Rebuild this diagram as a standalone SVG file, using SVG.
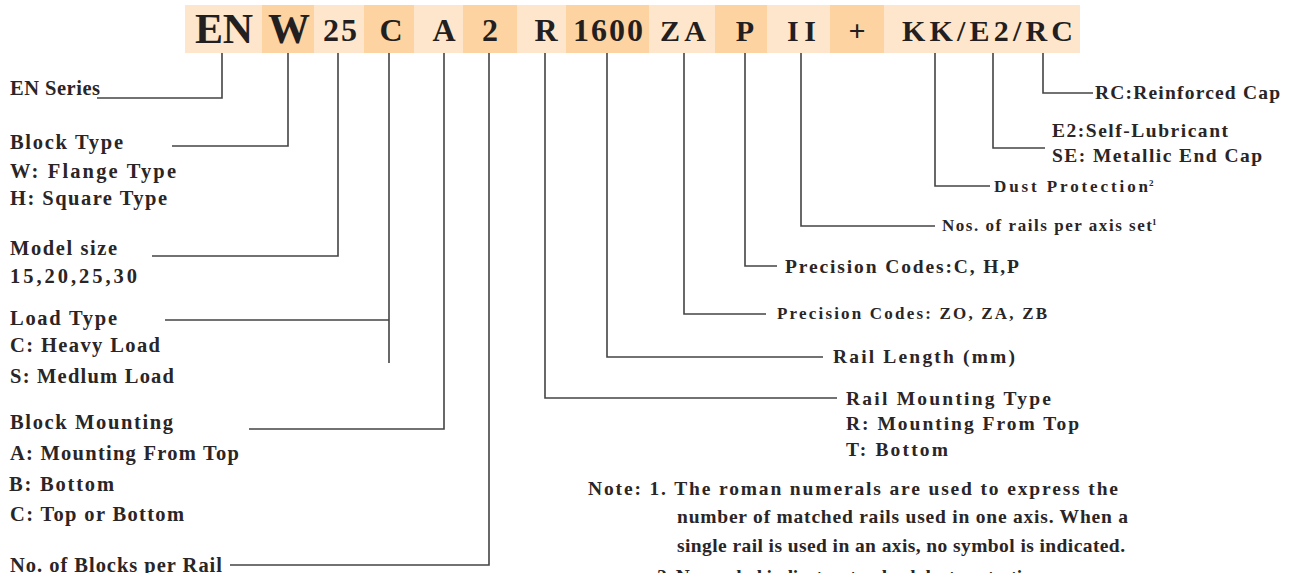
<svg xmlns="http://www.w3.org/2000/svg" width="1297" height="573" viewBox="0 0 1297 573">
<style>
.lt{fill:#fee6cc}
.dk{fill:#fcd3a1}
.h{font-family:"Liberation Serif",serif;font-weight:bold;fill:#231f20}
.t{font-family:"Liberation Serif",serif;font-weight:bold;fill:#2a2526;font-size:20.5px}
.s{font-size:19.5px}
.m{font-size:17px}
.sup{font-size:9px}
.c{fill:none;stroke:#444;stroke-width:1.6}
</style>
<rect width="1297" height="573" fill="#fff"/>
<g id="code-bar">
<rect class="lt" x="185" y="5" width="77" height="48"/>
<rect class="dk" x="262" y="5" width="52" height="48"/>
<rect class="lt" x="314" y="5" width="50" height="48"/>
<rect class="dk" x="364" y="5" width="50" height="48"/>
<rect class="lt" x="414" y="5" width="49" height="48"/>
<rect class="dk" x="463" y="5" width="54" height="48"/>
<rect class="lt" x="517" y="5" width="49" height="48"/>
<rect class="dk" x="566" y="5" width="83" height="48"/>
<rect class="lt" x="649" y="5" width="66" height="48"/>
<rect class="dk" x="715" y="5" width="52" height="48"/>
<rect class="lt" x="767" y="5" width="63" height="48"/>
<rect class="dk" x="830" y="5" width="54" height="48"/>
<rect class="lt" x="884" y="5" width="196" height="48"/>
<text class="h" x="195" y="43" font-size="42" textLength="58" lengthAdjust="spacing">EN</text>
<text class="h" x="289" y="43" font-size="42" text-anchor="middle">W</text>
<text class="h" x="323" y="41" font-size="32" textLength="34" lengthAdjust="spacing">25</text>
<text class="h" x="391" y="41" font-size="32" text-anchor="middle">C</text>
<text class="h" x="444" y="41" font-size="32" text-anchor="middle">A</text>
<text class="h" x="490" y="41" font-size="32" text-anchor="middle">2</text>
<text class="h" x="546" y="41" font-size="32" text-anchor="middle">R</text>
<text class="h" x="573" y="41" font-size="32" textLength="70" lengthAdjust="spacing">1600</text>
<text class="h" x="660" y="41" font-size="30" textLength="46" lengthAdjust="spacing">ZA</text>
<text class="h" x="745" y="41" font-size="30" text-anchor="middle">P</text>
<text class="h" x="787" y="41" font-size="30" textLength="29" lengthAdjust="spacing">II</text>
<text class="h" x="857" y="41" font-size="30" text-anchor="middle">+</text>
<text class="h" x="902" y="41" font-size="30" textLength="171" lengthAdjust="spacing">KK/E2/RC</text>
</g>
<g id="connectors">
<path class="c" d="M222 53V98H97"/>
<path class="c" d="M288 53V146H172"/>
<path class="c" d="M338 53V256H152"/>
<path class="c" d="M389 53V363M165 320H389"/>
<path class="c" d="M444 53V429H249"/>
<path class="c" d="M489 53V565H230"/>
<path class="c" d="M545 53V398H837"/>
<path class="c" d="M607 53V357H823"/>
<path class="c" d="M684 53V314H766"/>
<path class="c" d="M745 53V266H777"/>
<path class="c" d="M801 53V226H935"/>
<path class="c" d="M935 53V186H990"/>
<path class="c" d="M993 53V148H1045"/>
<path class="c" d="M1043 53V93H1093"/>
</g>
<g id="en-series"><text class="t" x="10" y="95" font-size="16" textLength="90" lengthAdjust="spacing">EN Series</text></g>
<g id="block-type">
<text class="t" x="10" y="149" textLength="113" lengthAdjust="spacing">Block Type</text>
<text class="t" x="10" y="178" textLength="166" lengthAdjust="spacing">W: Flange Type</text>
<text class="t" x="10" y="205" textLength="157" lengthAdjust="spacing">H: Square Type</text>
</g>
<g id="model-size">
<text class="t" x="10" y="255" textLength="107" lengthAdjust="spacing">Model size</text>
<text class="t" x="10" y="283" textLength="127" lengthAdjust="spacing">15,20,25,30</text>
</g>
<g id="load-type">
<text class="t" x="10" y="325" textLength="107" lengthAdjust="spacing">Load Type</text>
<text class="t" x="10" y="352" textLength="150" lengthAdjust="spacing">C: Heavy Load</text>
<text class="t" x="10" y="383" textLength="164" lengthAdjust="spacing">S: Medlum Load</text>
</g>
<g id="block-mounting">
<text class="t" x="10" y="429" textLength="163" lengthAdjust="spacing">Block Mounting</text>
<text class="t" x="10" y="460" textLength="229" lengthAdjust="spacing">A: Mounting From Top</text>
<text class="t" x="9" y="491" textLength="105" lengthAdjust="spacing">B: Bottom</text>
<text class="t" x="10" y="521" textLength="174" lengthAdjust="spacing">C: Top or Bottom</text>
</g>
<g id="blocks-per-rail"><text class="t" x="10" y="572" textLength="212" lengthAdjust="spacing">No. of Blocks per Rail</text></g>
<g id="reinforced-cap"><text class="t s" x="1095" y="99" textLength="185" lengthAdjust="spacing">RC:Reinforced Cap</text></g>
<g id="self-lubricant">
<text class="t s" x="1052" y="137" textLength="176" lengthAdjust="spacing">E2:Self-Lubricant</text>
<text class="t s" x="1052" y="162" textLength="210" lengthAdjust="spacing">SE: Metallic End Cap</text>
</g>
<g id="dust-protection"><text class="t m" x="994" y="192" textLength="154" lengthAdjust="spacing">Dust Protection</text><text class="t sup" x="1149" y="186">2</text></g>
<g id="rails-per-axis"><text class="t m" x="942" y="231" textLength="210" lengthAdjust="spacing">Nos. of rails per axis set</text><text class="t sup" x="1152" y="225">1</text></g>
<g id="precision-p"><text class="t s" x="785" y="273" textLength="234" lengthAdjust="spacing">Precision Codes:C, H,P</text></g>
<g id="precision-z"><text class="t m" x="777" y="319" textLength="270" lengthAdjust="spacing">Precision Codes: ZO, ZA, ZB</text></g>
<g id="rail-length"><text class="t s" x="833" y="363" textLength="182" lengthAdjust="spacing">Rail Length (mm)</text></g>
<g id="rail-mounting">
<text class="t s" x="846" y="405" textLength="205" lengthAdjust="spacing">Rail Mounting Type</text>
<text class="t s" x="846" y="430" textLength="233" lengthAdjust="spacing">R: Mounting From Top</text>
<text class="t s" x="846" y="456" textLength="102" lengthAdjust="spacing">T: Bottom</text>
</g>
<g id="note">
<text class="t s" x="588" y="495" textLength="530" lengthAdjust="spacing">Note: 1. The roman numerals are used to express the</text>
<text class="t s" x="677" y="523" textLength="451" lengthAdjust="spacing">number of matched rails used in one axis. When a</text>
<text class="t s" x="677" y="552" textLength="448" lengthAdjust="spacing">single rail is used in an axis, no symbol is indicated.</text>
<text class="t s" x="657" y="583" textLength="390" lengthAdjust="spacing">2. No symbol indicates standard dust protection.</text>
</g>
</svg>
